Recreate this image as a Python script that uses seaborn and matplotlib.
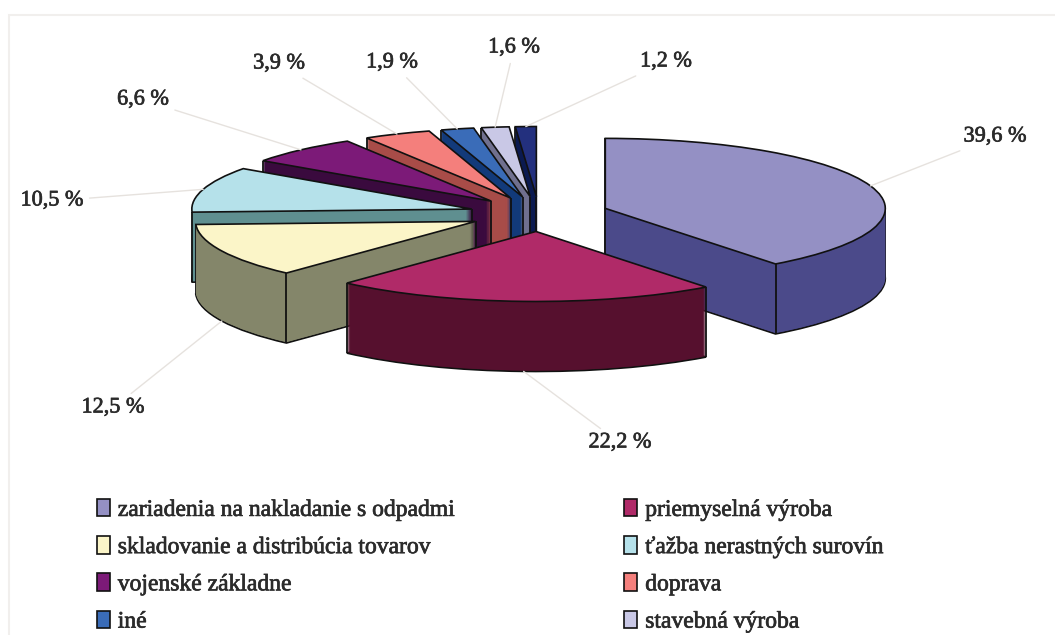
import numpy as np
import matplotlib
matplotlib.use("Agg")
import matplotlib.pyplot as plt
import matplotlib.patheffects as pe
from matplotlib.patches import Patch, Rectangle
import seaborn as sns

# values from the chart, clockwise from the top
values = [39.6, 22.2, 12.5, 10.5, 6.6, 3.9, 1.9, 1.6, 1.2]
value_labels = ["39,6 %", "22,2 %", "12,5 %", "10,5 %", "6,6 %", "3,9 %", "1,9 %", "1,6 %", "1,2 %"]
legend_names = ["zariadenia na nakladanie s odpadmi", "priemyselná výroba",
                "skladovanie a distribúcia tovarov", "ťažba nerastných surovín",
                "vojenské základne", "doprava", "iné", "stavebná výroba"]

top_colors = ["#9490c4", "#b02a68", "#fbf5c8", "#b5e1ea", "#7c1a78", "#f47f7c", "#3a6cb8", "#c9c8e6", "#23307e"]
side_colors = ["#4b4a8a", "#56102e", "#84866a", "#5f8f90", "#3a0a3e", "#a84c48", "#123a7a", "#70708f", "#0b1a50"]

# label centres in pixels of the image, x then y
label_x = [995, 620, 113, 52, 143, 279, 392, 514, 666]
label_y = [137, 443, 408, 201, 100, 64, 63, 48, 62]

W, H = 1055, 635
SQUASH = 4      # ellipse is 4 times wider than tall
RADIUS = 280
DEPTH = 70
CX, CY = 539, 214


def py(y):
    # image pixel row -> data y
    return (H - y) * SQUASH


sns.set_theme(style="white")
plt.rcParams["font.family"] = ["Liberation Serif", "DejaVu Serif"]

fig = plt.figure(figsize=(W / 100, H / 100), dpi=100)
ax = fig.add_axes([0, 0, 1, 1])

# pie takes explode as a plain offset here, so a quarter of the radius
explode = [0.25 * RADIUS] * len(values)
thicker = [pe.withStroke(linewidth=0.5, foreground="#2b2b2b")]


def draw_layer(colors, d, z, lw=0.0):
    wedges, _ = ax.pie(values, explode=explode, colors=colors, startangle=90, counterclock=False,
                       radius=RADIUS, center=(CX, py(CY + d)), normalize=True,
                       wedgeprops={"linewidth": lw, "edgecolor": "#111111" if lw else "none", "zorder": z})
    return wedges


# corners of each slice, walls get a black line there
z = 1
base = draw_layer(side_colors, DEPTH, z, lw=1.2)
corner_x = []
corner_top = []
for w in base:
    cx, cy = w.center
    angs = [w.theta1, w.theta2]
    for extreme in (0, 180, 360):
        if w.theta1 < extreme < w.theta2:
            angs.append(extreme)
    corner_x.append(cx)
    corner_top.append(cy + DEPTH * SQUASH)
    for a in angs:
        corner_x.append(cx + RADIUS * np.cos(np.radians(a)))
        corner_top.append(cy + DEPTH * SQUASH + RADIUS * np.sin(np.radians(a)))
corner_x = np.array(corner_x)
corner_top = np.array(corner_top)

# stack the walls from the bottom up so nearer slices hide the ones behind
for d in range(DEPTH, 0, -1):
    z += 1
    draw_layer(side_colors, d - 1, z)
    z += 1
    ax.vlines(corner_x, corner_top - d * SQUASH, corner_top - (d - 1) * SQUASH,
              color="#111111", lw=1.3, zorder=z)

z += 1
top = draw_layer(top_colors, 0, z, lw=1.2)

ax.set_aspect("auto")
ax.set_xlim(0, W)
ax.set_ylim(0, H * SQUASH)
ax.axis("off")

# labels with pale leader lines to the rim
for i, w in enumerate(top):
    mid = np.radians((w.theta1 + w.theta2) / 2)
    rim_x = w.center[0] + RADIUS * np.cos(mid)
    rim_y = w.center[1] + RADIUS * np.sin(mid)
    if np.sin(mid) < -0.3:
        rim_y -= DEPTH * SQUASH
    ax.annotate(value_labels[i], xy=(rim_x, rim_y), xytext=(label_x[i], py(label_y[i])),
                ha="center", va="center", fontsize=16, color="#2b2b2b", zorder=z + 1, path_effects=thicker,
                arrowprops={"arrowstyle": "-", "color": "#e6e2de", "lw": 1.0, "shrinkA": 2, "shrinkB": 0})

# faint frame of the original picture, only top and left are in view
ax.add_patch(Rectangle((9, py(700)), 1100, py(15) - py(700), fill=False, edgecolor="#f1efed", lw=1.5, zorder=0))

# legend fills column by column
order = [0, 2, 4, 6, 1, 3, 5, 7]
handles = [Patch(facecolor=top_colors[i], edgecolor="#111111", lw=1.2, label=legend_names[i]) for i in order]
leg = ax.legend(handles=handles, ncol=2, loc="upper left", bbox_to_anchor=(97, py(499)), bbox_transform=ax.transData,
                frameon=False, fontsize=17, labelcolor="#2b2b2b", borderpad=0, borderaxespad=0,
                handlelength=0.55, handleheight=0.75, handletextpad=0.33, labelspacing=0.65, columnspacing=7.17)
for t in leg.get_texts():
    t.set_path_effects(thicker)

fig.savefig("out.png", dpi=100)
